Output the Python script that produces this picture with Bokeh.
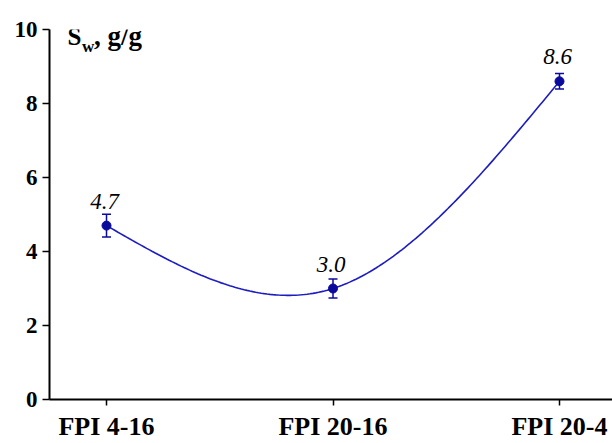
import numpy as np
from bokeh.plotting import figure
from bokeh.models import Range1d, FixedTicker, Label, LabelSet, Whisker, ColumnDataSource
from bokeh.embed import file_html
from bokeh.resources import INLINE

categories = ["FPI 4-16", "FPI 20-16", "FPI 20-4"]
sw_values = [4.7, 3.0, 8.6]
sw_errors = [0.31, 0.26, 0.21]
value_labels = ["4.7", "3.0", "8.6"]
y_ticks = [0, 2, 4, 6, 8, 10]

xs = np.arange(len(categories), dtype=float)
ys = np.array(sw_values)

# natural cubic spline through the points (smoothed connecting line)
n = len(xs)
h = np.diff(xs)
A = np.zeros((n, n)); r = np.zeros(n)
A[0, 0] = 1; A[-1, -1] = 1
for i in range(1, n - 1):
    A[i, i - 1] = h[i - 1]; A[i, i] = 2 * (h[i - 1] + h[i]); A[i, i + 1] = h[i]
    r[i] = 6 * ((ys[i + 1] - ys[i]) / h[i] - (ys[i] - ys[i - 1]) / h[i - 1])
M = np.linalg.solve(A, r)
sx, sy = [], []
for i in range(n - 1):
    t = np.linspace(xs[i], xs[i + 1], 80)
    a = xs[i + 1] - t; b = t - xs[i]; hi = h[i]
    s = (M[i] * a**3 + M[i + 1] * b**3) / (6 * hi) + (ys[i] / hi - M[i] * hi / 6) * a + (ys[i + 1] / hi - M[i + 1] * hi / 6) * b
    sx.extend(t); sy.extend(s)

FONT = "Liberation Serif"

p = figure(width=612, height=443, output_backend="svg", toolbar_location=None,
           x_range=Range1d(-0.2517, 2.234), y_range=Range1d(0, 10),
           min_border_left=49, min_border_right=0, min_border_top=29, min_border_bottom=42)
p.outline_line_color = None
p.xgrid.visible = False
p.ygrid.visible = False
p.background_fill_color = "white"

blue = "#1c1cc0"
navy = "#0a0a9c"
p.line(sx, sy, line_color=blue, line_width=1.6)

src = ColumnDataSource(dict(x=xs, y=ys, lo=ys - np.array(sw_errors), hi=ys + np.array(sw_errors), lab=value_labels))
w = Whisker(base="x", lower="lo", upper="hi", source=src, line_color=navy, line_width=1.5)
w.upper_head.size = 9; w.lower_head.size = 9
w.upper_head.line_color = navy; w.lower_head.line_color = navy
w.upper_head.line_width = 1.5; w.lower_head.line_width = 1.5
p.add_layout(w)
p.scatter("x", "y", source=src, size=9, fill_color=navy, line_color=navy)
p.add_layout(LabelSet(x="x", y="y", text="lab", source=src, y_offset=17, x_offset=-2, text_align="center",
                      text_baseline="alphabetic", text_font=FONT, text_font_style="italic",
                      text_font_size="23px", text_color="black"))

for ax in (p.xaxis[0], p.yaxis[0]):
    ax.axis_line_width = 2
    ax.axis_line_color = "black"
    ax.major_tick_line_width = 1.5
    ax.major_tick_line_color = "black"
    ax.minor_tick_line_color = None
    ax.major_tick_in = 0
    ax.major_label_text_font = FONT
    ax.major_label_text_font_style = "bold"
    ax.major_label_text_color = "black"

p.xaxis.ticker = FixedTicker(ticks=list(xs))
p.xaxis.major_label_overrides = {i: c for i, c in enumerate(categories)}
p.xaxis.major_label_text_font_size = "26px"
p.xaxis.major_tick_out = 6
p.xaxis.major_label_standoff = 6
p.yaxis.ticker = FixedTicker(ticks=y_ticks)
p.yaxis.major_label_text_font_size = "23px"
p.yaxis.major_tick_out = 7
p.yaxis.major_label_standoff = 5

p.add_layout(Label(x=-0.1722, y=9.812, text="S", text_font=FONT, text_font_style="bold",
                   text_font_size="25px", text_baseline="alphabetic", text_color="black"))
p.add_layout(Label(x=-0.108, y=9.543, text="w", text_font=FONT, text_font_style="bold",
                   text_font_size="17px", text_baseline="alphabetic", text_color="black"))
p.add_layout(Label(x=-0.055, y=9.812, text=", g/g", text_font=FONT, text_font_style="bold",
                   text_font_size="27px", text_baseline="alphabetic", text_color="black"))

open("out.html", "w").write(file_html(p, INLINE))
